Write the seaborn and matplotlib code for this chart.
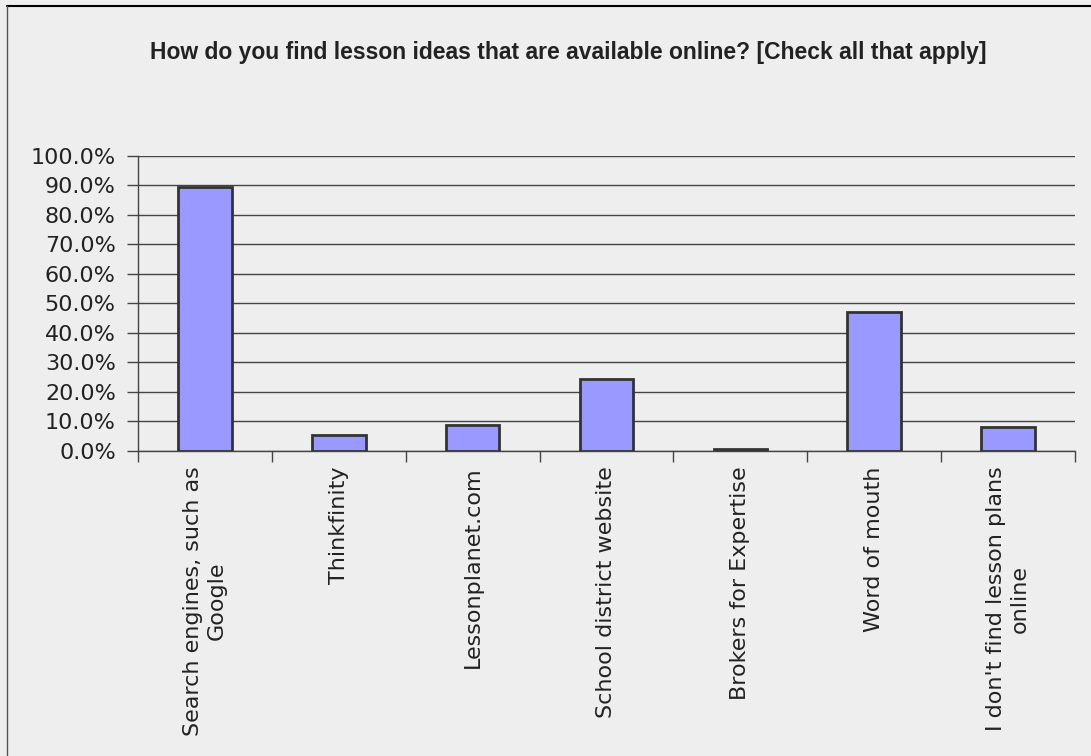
import matplotlib
matplotlib.use("Agg")
import matplotlib.pyplot as plt
import seaborn as sns
import pandas as pd
from matplotlib.ticker import FuncFormatter, FixedLocator
from matplotlib.lines import Line2D

categories = [
    "Search engines, such as\nGoogle",
    "Thinkfinity",
    "Lessonplanet.com",
    "School district website",
    "Brokers for Expertise",
    "Word of mouth",
    "I don't find lesson plans\nonline",
]
values = [89.5, 5.4, 8.8, 24.4, 0.6, 47.2, 8.1]
title = "How do you find lesson ideas that are available online? [Check all that apply]"
yticks = [0, 10, 20, 30, 40, 50, 60, 70, 80, 90, 100]

df = pd.DataFrame({"category": categories, "value": values})

sns.set_theme(style="white")
plt.rcParams["font.family"] = ["DejaVu Sans"]

bg = "#eeeeee"
fig = plt.figure(figsize=(10.91, 7.56), dpi=100, facecolor=bg)
ax = fig.add_axes([138 / 1091, 1 - 451 / 756, (1075 - 138) / 1091, (451 - 155.7) / 756])
ax.set_facecolor(bg)

sns.barplot(data=df, x="category", y="value", ax=ax, color="#9999ff",
            saturation=1, width=0.40, edgecolor="#333333", linewidth=2, zorder=3)

ax.set_xlim(-0.5, len(categories) - 0.5)
ax.set_ylim(0, 100)
ax.set_yticks(yticks)
ax.yaxis.set_major_formatter(FuncFormatter(lambda v, p: f"{v:.1f}%"))
ax.grid(axis="y", color="#444444", linewidth=1.0, zorder=0)
ax.set_axisbelow(True)

ax.set_xlabel("")
ax.set_ylabel("")
for s in ["top", "right"]:
    ax.spines[s].set_visible(False)
for s in ["left", "bottom"]:
    ax.spines[s].set_color("#444444")
    ax.spines[s].set_linewidth(1.0)

ax.tick_params(axis="y", which="major", direction="out", length=8, width=1,
               color="#444444", labelsize=16, labelcolor="#222222", pad=8, left=True)
ax.tick_params(axis="x", which="major", length=0, labelsize=16, labelcolor="#222222", pad=11)
ax.xaxis.set_minor_locator(FixedLocator([i - 0.5 for i in range(len(categories) + 1)]))
ax.tick_params(axis="x", which="minor", direction="out", length=8, width=1,
               color="#444444", bottom=True)
for lbl in ax.get_xticklabels():
    lbl.set_rotation(90)
    lbl.set_ha("center")
    lbl.set_va("top")
    lbl.set_multialignment("center")

fig.text(568 / 1091, 1 - 52 / 756, title, ha="center", va="center",
         fontsize=16.5, fontweight="bold", color="#222222",
         family=["Liberation Sans Narrow", "Liberation Sans", "DejaVu Sans"])

# outer frame (top and left edges visible)
fig.add_artist(Line2D([7 / 1091, 1.0], [1 - 6 / 756, 1 - 6 / 756],
                      transform=fig.transFigure, color="black", linewidth=1.5))
fig.add_artist(Line2D([7 / 1091, 7 / 1091], [0, 1 - 6 / 756],
                      transform=fig.transFigure, color="#555555", linewidth=1.0))

fig.savefig("out.png", dpi=100, facecolor=bg)
